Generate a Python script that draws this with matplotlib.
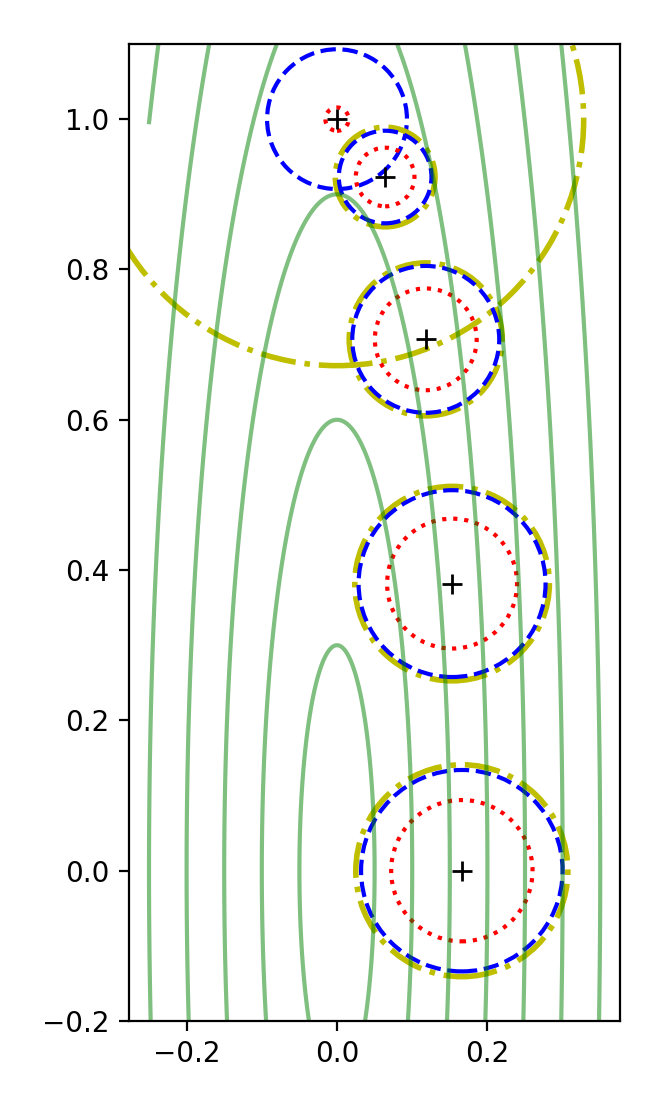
import numpy as np
import matplotlib
matplotlib.use("Agg")
import matplotlib.pyplot as plt
from matplotlib.patches import Circle

# iterate centres
center_x = [0.0, 0.064, 0.118, 0.153, 0.166]
center_y = [1.0, 0.923, 0.707, 0.382, 0.0]
# radii of the three region types
radius_red = [0.0155, 0.039, 0.0677, 0.0864, 0.094]
radius_blue = [0.093, 0.0616, 0.0977, 0.1243, 0.134]
radius_yellow = [0.328, 0.0663, 0.1018, 0.1294, 0.141]
# contour levels of sqrt(36 x^2 + y^2)
contour_levels = [0.3, 0.6, 0.9, 1.2, 1.5, 1.8, 2.1]

fig = plt.figure(figsize=(3.32, 5.535), dpi=200)
ax = fig.add_axes([129/664, 86/1107, 491/664, 977/1107])

for cx, cy, ry, rb, rr in zip(center_x, center_y, radius_yellow, radius_blue, radius_red):
    ax.add_patch(Circle((cx, cy), ry, fill=False, ec='y', ls='-.', lw=2))
    ax.add_patch(Circle((cx, cy), rb, fill=False, ec='b', ls='--', lw=1.5))
    ax.add_patch(Circle((cx, cy), rr, fill=False, ec='r', ls=':', lw=1.5))

xg = np.linspace(-0.2502, 0.36, 600)
yg = np.linspace(-0.2, 1.1, 900)
X, Y = np.meshgrid(xg, yg)
F = np.sqrt(36 * X**2 + Y**2)
ax.contour(X, Y, F, levels=contour_levels, colors='g', alpha=0.5, linewidths=1.5)

ax.plot(center_x, center_y, 'k+', ms=7, ls='none')

ax.set_xlim(-0.2766, 0.3763)
ax.set_ylim(-0.2, 1.1)
ax.set_xticks([-0.2, 0.0, 0.2])
ax.set_yticks([-0.2, 0.0, 0.2, 0.4, 0.6, 0.8, 1.0])

fig.savefig("out.png", dpi=200)
